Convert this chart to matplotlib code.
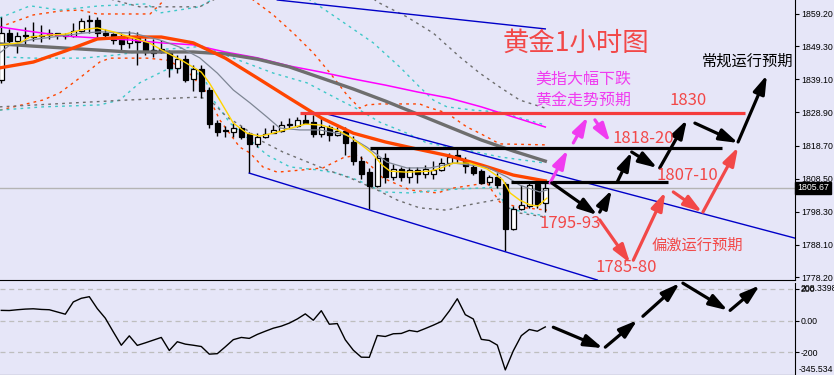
import numpy as np
import matplotlib as mpl
import matplotlib.pyplot as plt
from matplotlib.transforms import blended_transform_factory, offset_copy

plt.rcParams['font.family'] = ['Noto Sans CJK SC', 'DejaVu Sans']

BG  = '#E6E6F8'
RED = '#F24848'
MAG = '#F03CF0'
ORANGE = '#FF4500'
CYAN = '#3EC8C8'
GRAY = '#6E6E6E'
BLUE = '#0000C8'
TICK_FS = 6.3

# ---- 1h candles ----
opens  = [1838.9, 1853.3, 1850.9, 1852.4, 1852.1, 1852.4, 1853.3, 1853.3, 1852.4, 1852.4,
          1854.0, 1857.0, 1857.4, 1853.3, 1853.0, 1851.2, 1850.3, 1851.8, 1850.6, 1847.2,
          1848.4, 1847.2, 1842.6, 1845.3, 1839.2, 1842.3, 1835.8, 1825.6, 1823.2, 1822.9,
          1824.1, 1822.2, 1819.2, 1821.3, 1822.6, 1823.2, 1825.0, 1824.7, 1826.6, 1825.9,
          1822.2, 1824.4, 1821.9, 1823.2, 1819.8, 1813.9, 1810.5, 1806.2, 1814.9, 1809.0,
          1811.5, 1809.0, 1811.2, 1809.9, 1809.9, 1811.2, 1813.3, 1815.8, 1813.9, 1812.1,
          1810.8, 1807.5, 1809.0, 1806.9, 1793.0, 1799.1, 1800.1, 1806.9, 1801.0]
highs  = [1858.3, 1854.6, 1853.7, 1855.2, 1856.7, 1855.8, 1854.6, 1853.4, 1853.3, 1856.4,
          1858.0, 1858.9, 1858.3, 1854.6, 1853.3, 1853.3, 1854.0, 1853.7, 1851.8, 1851.5,
          1851.2, 1848.1, 1846.6, 1846.6, 1843.5, 1843.5, 1836.7, 1826.6, 1824.7, 1825.6,
          1824.7, 1822.9, 1822.6, 1824.1, 1825.0, 1826.3, 1827.2, 1827.5, 1828.4, 1828.1,
          1827.5, 1825.0, 1824.4, 1824.4, 1821.6, 1815.5, 1811.8, 1818.2, 1816.4, 1813.0,
          1812.1, 1812.1, 1812.1, 1812.7, 1813.9, 1814.9, 1816.4, 1817.6, 1815.2, 1813.3,
          1811.5, 1809.6, 1810.2, 1807.5, 1800.1, 1806.5, 1807.2, 1807.5, 1807.5]
lows   = [1838.0, 1849.7, 1847.2, 1849.7, 1850.9, 1850.6, 1851.5, 1851.5, 1851.5, 1852.1,
          1853.7, 1853.3, 1852.1, 1852.1, 1850.0, 1848.1, 1848.7, 1843.5, 1846.6, 1846.0,
          1847.2, 1839.8, 1841.0, 1838.3, 1835.5, 1833.3, 1824.1, 1821.6, 1821.3, 1821.3,
          1820.7, 1810.2, 1818.2, 1821.0, 1822.5, 1822.9, 1824.1, 1824.4, 1825.5, 1821.3,
          1821.3, 1820.1, 1821.6, 1815.8, 1812.7, 1808.4, 1799.1, 1805.9, 1807.2, 1808.1,
          1807.8, 1807.2, 1807.2, 1808.7, 1808.4, 1810.8, 1812.4, 1813.3, 1810.2, 1809.6,
          1806.9, 1806.5, 1805.6, 1786.2, 1792.7, 1798.8, 1799.5, 1799.5, 1798.2]
closes = [1853.3, 1850.9, 1852.4, 1852.3, 1852.4, 1852.3, 1852.7, 1852.7, 1852.3, 1854.0,
          1857.0, 1857.1, 1853.3, 1852.7, 1851.2, 1850.0, 1852.1, 1850.6, 1847.5, 1848.1,
          1847.5, 1842.6, 1845.3, 1838.9, 1842.3, 1835.5, 1825.3, 1822.9, 1823.1, 1824.1,
          1821.3, 1819.2, 1821.3, 1822.2, 1823.5, 1825.0, 1825.1, 1826.6, 1825.6, 1822.2,
          1824.4, 1821.9, 1823.2, 1819.5, 1813.9, 1809.9, 1806.2, 1814.9, 1809.0, 1811.5,
          1809.0, 1811.2, 1809.9, 1811.5, 1811.2, 1813.3, 1815.2, 1814.9, 1812.4, 1810.2,
          1807.2, 1809.0, 1806.5, 1793.0, 1799.1, 1800.4, 1806.5, 1800.7, 1805.67]
last_price = 1805.67

# oscillator, one value per bar
cci = [64, 63, 68, 72, 74, 70, 68, 54, 40, 117, 140, 150, 75, 15, -71, -155, -96, -156, -140, -123,
       -106, -188, -133, -148, -155, -163, -211, -208, -165, -120, -106, -112, -87, -67, -48, -35,
       -16, 10, 42, 2, 62, -23, -19, -121, -186, -230, -231, -94, -100, -83, -81, -62, -70, -50,
       -29, -6, 60, 137, 37, 10, -118, -125, -154, -310, -190, -95, -56, -67, -40]

# slow averages, read every 4 bars
ma_x       = [-0.2, 4, 8, 12, 16, 20, 24, 28, 32, 36, 40, 44, 48, 52, 56, 60, 64, 68]
ma_orange  = [1842.6, 1844.4, 1847.8, 1851.5, 1852.1, 1852.1, 1850.3, 1845.6, 1839.5,
              1833.3, 1827.2, 1822.5, 1819.8, 1817.6, 1815.5, 1812.7, 1809.6, 1807.8]
ma_gray    = [1850.0, 1849.3, 1848.7, 1848.1, 1847.5, 1847.5, 1847.5, 1846.9, 1845.3,
              1842.9, 1839.5, 1836.1, 1832.4, 1828.4, 1824.4, 1820.4, 1817.0, 1813.9]
ma_magenta = [1855.2, 1853.7, 1852.4, 1851.8, 1851.2, 1850.3, 1849.7, 1847.5, 1845.7,
              1843.2, 1841.3, 1839.2, 1837.3, 1835.2, 1833.3, 1830.6, 1827.5, 1824.4]

# fast average (yellow)
fast_x  = [-0.2, 2.3, 3.6, 6, 8, 10, 12, 14, 16.5, 18.5, 20.5, 22.5, 25, 26, 27.3, 29, 30.7,
           32.3, 34, 35, 38, 40, 42, 43.6, 45, 46.3, 47.6, 48.6, 50.7, 53.6, 55, 56.5, 58.6,
           60.7, 62.7, 63.6, 64.8, 66.1, 67.1, 68.2]
fast_ma = [1849.7, 1850.3, 1852.1, 1852.7, 1853.0, 1854.3, 1854.9, 1853.7, 1851.8, 1850.3,
           1847.5, 1845.0, 1841.3, 1838.0, 1832.7, 1825.6, 1822.5, 1821.6, 1822.5, 1823.2,
           1825.3, 1825.0, 1823.5, 1821.3, 1818.9, 1816.4, 1812.7, 1810.8, 1810.5, 1810.8,
           1811.8, 1813.3, 1813.3, 1811.5, 1808.1, 1804.1, 1801.9, 1800.4, 1800.1, 1802.5]

# medium average (thin gray)
mid_x  = [-0.2, 1.1, 3.6, 10.2, 12.3, 16.5, 19.8, 22.3, 24.8, 27, 29, 31.1, 33.2, 34.8, 37.3,
          39.8, 43.2, 45.7, 48.2, 50.7, 53.6, 56.5, 60.7, 63.2, 64.8, 67.3, 68.2]
mid_ma = [1847.2, 1849.7, 1851.2, 1853.3, 1853.7, 1853.3, 1851.2, 1849.0, 1845.7, 1841.0,
          1835.8, 1831.8, 1827.5, 1824.1, 1823.5, 1823.5, 1821.9, 1818.2, 1813.6, 1811.8,
          1811.8, 1813.3, 1812.1, 1809.0, 1806.5, 1804.4, 1805.0]

# bands (dashed)
band_or_up_x = [-0.2, 4.0, 7.3, 9.8, 12.0, 18.6, 22.3, 28.6, 31.5, 34.0, 36.5, 39.0, 41.1,
                43.2, 44.8, 45.7, 47.3, 52.3, 53.2, 55.7, 58.2, 59.8, 62.3, 68.0]
band_or_up   = [1855.2, 1858.9, 1860.1, 1860.4, 1859.2, 1859.2, 1868.1, 1868.1, 1863.5, 1858.9,
                1853.3, 1847.2, 1841.0, 1834.3, 1830.2, 1831.2, 1831.5, 1831.5, 1830.6, 1828.7,
                1824.4, 1822.5, 1819.2, 1818.9]
band_or_lo_x = [-0.2, 5.2, 7.3, 9.8, 12.3, 13.6, 18.2, 20.7, 23.2, 25.7, 27.3, 29.8, 31.1, 32.7,
                34.5, 37.7, 40.2, 42.7, 44.5, 46.1, 47.7, 51.1, 54.5, 56.5, 60.7, 62.3, 64.5, 68.2]
band_or_lo   = [1829.6, 1832.7, 1834.9, 1839.5, 1844.4, 1845.6, 1845.6, 1845.0, 1841.9, 1834.9,
                1826.6, 1818.2, 1816.4, 1812.1, 1810.5, 1811.2, 1811.8, 1814.9, 1815.8, 1812.7,
                1808.7, 1805.0, 1804.1, 1805.6, 1807.2, 1801.3, 1799.8, 1798.8]

band_cy_a_x = [-0.2, 3.6, 7.3, 12.3, 18.2, 19.8, 24.8, 26.7, 32.3, 38.0, 39.0, 42.3, 46.5,
               49.8, 52.3, 54.0, 55.7, 59.0, 62.3, 68.0]
band_cy_a   = [1858.0, 1861.7, 1860.4, 1861.7, 1862.3, 1859.5, 1861.4, 1864.1, 1869.7, 1864.4,
               1862.9, 1857.4, 1850.3, 1842.9, 1836.7, 1832.7, 1830.6, 1829.6, 1829.0, 1825.0]
band_cy_b_x = [-0.2, 4.0, 10.2, 14.5, 18.6, 22.7, 25.2, 29.0, 34.0, 38.2, 42.3, 44.8, 47.3,
               50.7, 53.2, 58.2, 62.3, 68.0]
band_cy_b   = [1846.0, 1845.6, 1845.6, 1846.6, 1848.1, 1848.7, 1849.3, 1845.6, 1841.0, 1838.0,
               1832.7, 1829.6, 1825.9, 1822.5, 1819.5, 1817.3, 1815.2, 1813.3]
band_cy_c_x = [-0.2, 5.2, 12.3, 14.8, 17.3, 20.5, 23.6, 25.5, 26.5, 28.6, 31.1, 33.2, 36.1,
               39.5, 42.0, 44.5, 47.7, 51.1, 54.8, 62.0, 63.0, 64.8, 68.0]
band_cy_c   = [1829.6, 1830.6, 1831.2, 1832.7, 1838.0, 1841.9, 1842.6, 1838.9, 1832.7, 1825.6,
               1820.4, 1815.8, 1812.1, 1811.2, 1810.2, 1808.1, 1804.4, 1804.1, 1805.0, 1805.9,
               1799.8, 1798.5, 1797.0]

band_gr_up_x = [-0.2, 9.8, 14.0, 17.3, 24.8, 26.5, 32.3, 42.3, 47.0, 50.7, 54.0, 57.3, 59.8,
                62.3, 64.8, 68.0]
band_gr_up   = [1872.8, 1868.1, 1863.5, 1861.4, 1861.4, 1863.5, 1872.8, 1872.8, 1862.9, 1858.3,
                1853.3, 1846.0, 1841.0, 1836.7, 1832.7, 1830.2]
band_gr_lo_x = [-0.2, 15.7, 24.8, 26.1, 28.2, 30.2, 32.3, 35.2, 37.7, 40.7, 43.6, 47.0, 49.5,
                52.3, 55.7, 57.7, 62.3, 64.0, 68.0]
band_gr_lo   = [1830.6, 1832.7, 1833.6, 1832.7, 1827.5, 1824.4, 1820.4, 1816.7, 1814.2, 1811.2,
                1808.7, 1805.0, 1801.9, 1799.5, 1798.8, 1800.1, 1802.2, 1798.2, 1796.7]

# trend lines (x0, p0, x1, p1)
trend_lines = [(34.5, 1863.5, 68.0, 1854.6),
               (40.7, 1828.4, 99.2, 1790.2),
               (31.0, 1810.2, 74.5, 1777.3)]

# key levels (price, x_from, x_to, colour)
levels = [(1828.7, 37.3, 93.0, '#F53B3B'),
          (1817.9, 46.1, 90.1, 'black'),
          (1807.5, 63.7, 83.3, 'black')]

# forecast arrows (x0, p0, x1, p1, colour)
arrows_main = [(68.6, 1807.2, 70.8, 1817.3, MAG),
               (71.5, 1819.5, 73.3, 1827.5, MAG),
               (74.2, 1826.6, 76.1, 1819.8, MAG),
               (68.8, 1807.2, 74.5, 1797.3, 'black'),
               (74.8, 1798.2, 76.3, 1805.0, 'black'),
               (77.0, 1807.5, 78.8, 1816.7, 'black'),
               (78.8, 1816.7, 82.0, 1811.8, 'black'),
               (82.3, 1811.8, 85.7, 1826.6, 'black'),
               (86.7, 1825.6, 92.1, 1819.5, 'black'),
               (92.1, 1819.8, 95.7, 1840.4, 'black'),
               (74.8, 1795.8, 78.6, 1782.5, RED),
               (79.0, 1783.4, 83.0, 1804.4, RED),
               (84.0, 1804.4, 87.6, 1798.2, RED),
               (87.7, 1798.2, 92.1, 1818.2, RED)]
arrows_osc = [(69.0, -42, 75.2, -173),
              (75.5, -167, 79.5, 2),
              (80.2, 27, 84.8, 235),
              (85.2, 235, 90.8, 64),
              (91.1, 64, 94.8, 221)]

notes = [('黄金1小时图', 71.8, 1850.3, RED, 19, 'center'),
         ('常规运行预期', 87.6, 1844.7, 'black', 11, 'left'),
         ('美指大幅下跌', 66.7, 1839.2, MAG, 11.5, 'left'),
         ('黄金走势预期', 66.7, 1832.4, MAG, 11.5, 'left'),
         ('1830', 85.8, 1832.7, RED, 12, 'center'),
         ('1818-20', 80.2, 1821.0, RED, 12, 'center'),
         ('1807-10', 85.8, 1809.6, RED, 12, 'center'),
         ('1795-93', 71.1, 1794.8, RED, 12, 'center'),
         ('1785-80', 78.1, 1781.0, RED, 12, 'center'),
         ('偏激运行预期', 87.0, 1788.0, RED, 11, 'center')]

price_ticks = [1859.20, 1849.30, 1839.10, 1828.90, 1818.70, 1808.50, 1798.30, 1788.10, 1778.20]
osc_ticks = [200, 0, -200]
osc_tick_labels = ['200', '0.00', '-200']


def draw_candles(ax):
    x = np.arange(len(opens))
    o, h, l, c = map(np.array, (opens, highs, lows, closes))
    ax.vlines(x, l, h, color='black', lw=1, zorder=3)
    up = c >= o
    bottom = np.minimum(o, c)
    height = np.maximum(np.abs(c - o), 0.3)
    ax.bar(x[up], height[up], bottom=bottom[up], width=0.7, color='white',
           edgecolor='black', linewidth=0.9, zorder=3)
    ax.bar(x[~up], height[~up], bottom=bottom[~up], width=0.7, color='black',
           edgecolor='black', linewidth=0.9, zorder=3)


def style_right_axis(ax):
    for s in ['left', 'top']:
        ax.spines[s].set_visible(False)
    ax.set_facecolor(BG)
    ax.yaxis.tick_right()
    ax.set_xticks([])
    ax.tick_params(axis='y', direction='out', length=3, width=0.8, pad=1.2, labelsize=TICK_FS)
    for t in ax.get_yticklabels():
        t.set_fontfamily('Liberation Sans')


fig = plt.figure(figsize=(8.34, 3.75), dpi=100, facecolor=BG)
ax = fig.add_axes([0, 1 - 280 / 375, 795 / 834, 280 / 375])
axo = fig.add_axes([0, 0, 795 / 834, 1 - 283 / 375])
xlim = (-0.1625, 99.2125)

#bands
dash = (0, (2, 3))
ax.plot(band_or_up_x, band_or_up, ls=dash, color=ORANGE, lw=1, zorder=2)
ax.plot(band_or_lo_x, band_or_lo, ls=dash, color=ORANGE, lw=1, zorder=2)
ax.plot(band_cy_a_x, band_cy_a, ls=dash, color=CYAN, lw=1, zorder=2)
ax.plot(band_cy_b_x, band_cy_b, ls=dash, color=CYAN, lw=1, zorder=2)
ax.plot(band_cy_c_x, band_cy_c, ls=dash, color=CYAN, lw=1, zorder=2)
ax.plot(band_gr_up_x, band_gr_up, ls=dash, color=GRAY, lw=1, zorder=2)
ax.plot(band_gr_lo_x, band_gr_lo, ls=dash, color=GRAY, lw=1, zorder=2)

ax.axhline(last_price, color='#B4B4B4', lw=1, zorder=1)

draw_candles(ax)

#averages
ax.plot(ma_x, ma_magenta, color='#FF00FF', lw=1.1, zorder=4)
ax.plot(ma_x, ma_gray, color=GRAY, lw=2.4, zorder=4)
ax.plot(ma_x, ma_orange, color=ORANGE, lw=2.4, zorder=4)
ax.plot(mid_x, mid_ma, color='#7E8694', lw=0.9, zorder=4)
ax.plot(fast_x, fast_ma, color='#FFD400', lw=1, zorder=4)

for x0, p0, x1, p1 in trend_lines:
    ax.plot([x0, x1], [p0, p1], color=BLUE, lw=1, zorder=4)
for p, x0, x1, c in levels:
    ax.plot([x0, x1], [p, p], color=c, lw=2.3, solid_capstyle='butt', zorder=5)

for x0, p0, x1, p1, c in arrows_main:
    ax.annotate('', xy=(x1, p1), xytext=(x0, p0), zorder=6,
                arrowprops=dict(arrowstyle='-|>,head_length=1.1,head_width=0.35',
                                color=c, lw=2.3, shrinkA=0, shrinkB=0))
for txt, x, p, c, fs, ha in notes:
    ax.text(x, p, txt, color=c, fontsize=fs, ha=ha, va='center', zorder=7)

ax.set_xlim(*xlim)
ax.set_ylim(1777.3, 1863.5)
ax.set_yticks(price_ticks)
ax.set_yticklabels(['%.2f' % v for v in price_ticks])
style_right_axis(ax)

tr = offset_copy(blended_transform_factory(ax.transAxes, ax.transData), fig=fig, x=2, units='dots')
ax.text(1.0, last_price, '1805.67', transform=tr, ha='left', va='center', color='white',
        fontsize=TICK_FS, family='Liberation Sans',
        bbox=dict(facecolor='black', edgecolor='black', pad=1.3))

#oscillator panel
axo.plot(np.arange(len(cci)), cci, color='black', lw=1, zorder=3)
for v in osc_ticks:
    axo.axhline(v, color='#BEBEBE', lw=0.9, ls=(0, (4, 3)), zorder=1)
for x0, v0, x1, v1 in arrows_osc:
    axo.annotate('', xy=(x1, v1), xytext=(x0, v0), zorder=6, annotation_clip=False,
                 arrowprops=dict(arrowstyle='-|>,head_length=1.1,head_width=0.35',
                                 color='black', lw=2.3, shrinkA=0, shrinkB=0))
axo.set_xlim(*xlim)
axo.set_ylim(-342, 236)
axo.set_yticks(osc_ticks)
axo.set_yticklabels(osc_tick_labels)
style_right_axis(axo)
tro = offset_copy(blended_transform_factory(axo.transAxes, axo.transData), fig=fig, x=5.5, units='dots')
axo.text(1.0, 200, '208.3398', transform=tro, ha='left', va='center', fontsize=TICK_FS,
         family='Liberation Sans')
axo.text(1.0, 0.065, '-345.534', transform=offset_copy(axo.transAxes, fig=fig, x=4, units='dots'),
         ha='left', va='center', fontsize=TICK_FS, family='Liberation Sans')

fig.savefig('out.png', dpi=100, facecolor=BG)
